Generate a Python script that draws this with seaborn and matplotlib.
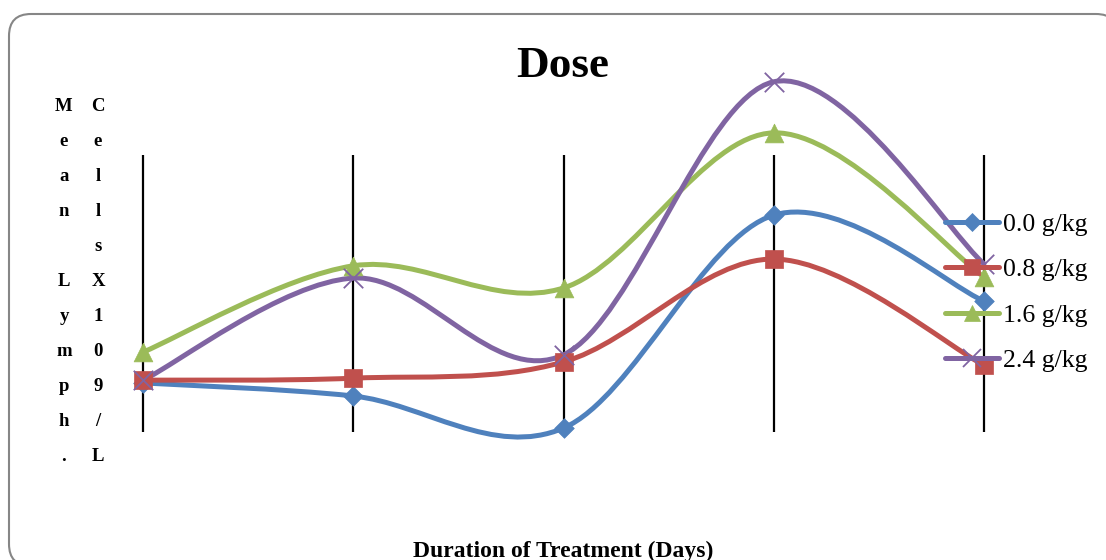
#!/usr/bin/env python
# -*- coding: utf-8 -*-
"""
Dose chart: mean lymphocyte cells over duration of treatment (Excel-style smoothed lines)
"""
import numpy as np
import matplotlib
matplotlib.use('Agg')
import matplotlib.pyplot as plt
import matplotlib.patches as mpatches
from matplotlib.path import Path
from matplotlib.lines import Line2D
from matplotlib.transforms import IdentityTransform
import seaborn as sns

# ---------------- data (y axis has no ticks) ----------------
day_pos = [0, 1, 2, 3, 4]  # treatment periods (no tick labels shown)
dose_labels = ['0.0 g/kg', '0.8 g/kg', '1.6 g/kg', '2.4 g/kg']
dose_00 = [1.24, 0.91, 0.10, 5.48, 3.31]
dose_08 = [1.31, 1.36, 1.77, 4.37, 1.69]
dose_16 = [2.02, 4.20, 3.64, 7.56, 3.92]
dose_24 = [1.31, 3.89, 1.95, 8.85, 4.25]

colors = ['#4F81BD', '#C0504D', '#9BBB59', '#8064A2']
markers = ['D', 's', '^', 'x']
marker_sizes = [10, 13.5, 13.5, 14]  # points

sns.set_theme(style='white')
plt.rcParams['font.family'] = ['Liberation Serif', 'DejaVu Serif']
plt.rcParams['text.color'] = 'black'

W, H = 1106, 560
fig = plt.figure(figsize=(W / 100, H / 100), dpi=100)

# rounded chart frame (pixel coordinates), white fill so the stroke is not
# clipped along the canvas edge; drawn under everything
frame = mpatches.FancyBboxPatch((9, H - 566), 1109, 552,
                                boxstyle='round,pad=0,rounding_size=22',
                                transform=IdentityTransform(),
                                facecolor='white', edgecolor='#868686',
                                linewidth=1.5, zorder=-1)
fig.patches.append(frame)

# plot area: vertical black lines span exactly this box
ax = fig.add_axes([38 / W, 1 - 432 / H, (1089 - 38) / W, 277 / H])
ax.set_facecolor('none')
ax.set_xlim(-0.5, 4.5)
ax.set_ylim(0, 7)
ax.set_xticks(day_pos)
ax.set_xticklabels([])
ax.set_yticks([])
ax.tick_params(length=0)
for s in ax.spines.values():
    s.set_visible(False)
ax.grid(axis='x', color='black', linewidth=1.6)
ax.set_axisbelow(True)


def smooth_path(xs, ys):
    """Excel-like smoothing: cubic Bezier segments with Catmull-Rom control points"""
    pts = np.column_stack([xs, ys]).astype(float)
    n = len(pts)
    verts = [pts[0]]
    codes = [Path.MOVETO]
    for i in range(n - 1):
        p_prev = pts[max(i - 1, 0)]
        p0 = pts[i]
        p1 = pts[i + 1]
        p_next = pts[min(i + 2, n - 1)]
        c1 = p0 + (p1 - p_prev) / 6.0
        c2 = p1 - (p_next - p0) / 6.0
        verts += [c1, c2, p1]
        codes += [Path.CURVE4] * 3
    return Path(verts, codes)


series = [dose_00, dose_08, dose_16, dose_24]
for i, vals in enumerate(series):
    patch = mpatches.PathPatch(smooth_path(day_pos, vals), facecolor='none',
                               edgecolor=colors[i], linewidth=3.6,
                               capstyle='round', joinstyle='round',
                               zorder=3 + i, clip_on=False)
    ax.add_patch(patch)
    if markers[i] == 'x':
        sns.scatterplot(x=day_pos, y=vals, marker='x', color=colors[i],
                        s=marker_sizes[i] ** 2, linewidth=1.3, ax=ax,
                        zorder=10 + i, clip_on=False, legend=False)
    else:
        sns.scatterplot(x=day_pos, y=vals, marker=markers[i], color=colors[i],
                        s=marker_sizes[i] ** 2, edgecolor=colors[i], linewidth=0.5,
                        ax=ax, zorder=10 + i, clip_on=False, legend=False)

# legend (no frame, at the right, overlapping the last column)
handles = []
for i in range(4):
    handles.append(Line2D([0], [0], color=colors[i], linewidth=3.6,
                          marker=markers[i], markersize=marker_sizes[i] * 0.9,
                          markeredgewidth=1.3 if markers[i] == 'x' else 0.5,
                          markeredgecolor=colors[i], markerfacecolor=colors[i]))
leg = fig.legend(handles, dose_labels, loc='center left',
                 bbox_to_anchor=(945 / W, 1 - 292.5 / H),
                 frameon=False, fontsize=18.5, handlelength=2.1,
                 handletextpad=0.15, labelspacing=0.88,
                 borderpad=0, borderaxespad=0)
leg.set_zorder(20)

# title
fig.text(563 / W, 1 - 77 / H, 'Dose', ha='center', va='baseline',
         fontsize=32.5, fontweight='bold')

# stacked vertical y label (two columns of letters)
col_left = ['M', 'e', 'a', 'n', '', 'L', 'y', 'm', 'p', 'h', '.']
col_right = ['C', 'e', 'l', 'l', 's', 'X', '1', '0', '9', '/', 'L']
for k in range(len(col_left)):
    base = 111 + 35 * k
    fig.text(64 / W, 1 - base / H, col_left[k], ha='center', va='baseline',
             fontsize=13.5, fontweight='bold')
    fig.text(98 / W, 1 - base / H, col_right[k], ha='center', va='baseline',
             fontsize=13.5, fontweight='bold')

# x label (cut at the bottom edge like the original)
fig.text(563 / W, 1 - 557 / H, 'Duration of Treatment (Days)', ha='center',
         va='baseline', fontsize=17, fontweight='bold')

fig.savefig('out.png', dpi=100)
